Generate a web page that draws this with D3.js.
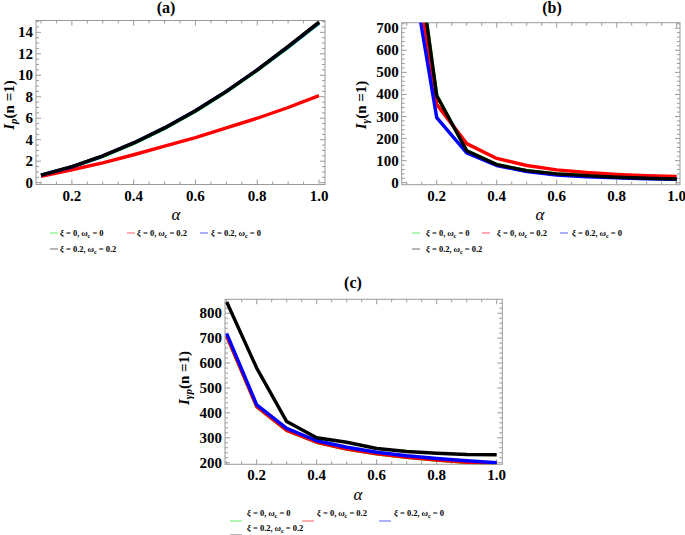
<!DOCTYPE html>
<html><head><meta charset="utf-8">
<script src="https://cdn.jsdelivr.net/npm/d3@7"></script>
<style>
body{margin:0;background:#fff;}
</style></head>
<body><svg id="c" width="685" height="535" font-family="'Liberation Serif','DejaVu Serif','Noto Serif',serif" font-weight="bold"></svg>
<script>
const alpha = [0.1,0.2,0.3,0.4,0.5,0.6,0.7,0.8,0.9,1.0];
const seriesNames = ["green","red","blue","black"];
const seriesColors = ["#00ee00","#ff0000","#0000ff","#000000"];
const legendColors = ["#7ef07e","#ff7a7a","#7a7aff","#888888"];
// legend labels: [xi, omega_c]
const legendXi = ["0","0","0.2","0.2"];
const legendOm = ["0","0.2","0","0.2"];

// Panel (a) I_p(n=1)
const aGreen = [0.68,1.45,2.45,3.65,5.05,6.65,8.45,10.45,12.6,14.85];
const aRed   = [0.6,1.2,1.85,2.6,3.4,4.2,5.1,6.0,7.0,8.1];
const aBlue  = [0.7,1.48,2.48,3.7,5.1,6.7,8.5,10.5,12.65,14.9];
const aBlack = [0.7,1.5,2.5,3.7,5.1,6.7,8.5,10.5,12.7,14.95];
const aTicks = [0,2,4,6,8,10,12,14];

// Panel (b) I_gamma(n=1)
const bGreen = [1380,395,145,82,55,40,32,25,20,17];
const bRed   = [1240,355,177,110,78,58,46,38,32,28];
const bBlue  = [1105,295,135,78,50,35,27,22,18,15];
const bBlack = [1385,395,145,82,55,40,32,25,20,17];
const bTicks = [0,100,200,300,400,500,600,700];

// Panel (c) I_gamma p(n=1)
const cGreen = [708,425,330,282,255,236,222,211,202,195];
const cRed   = [708,425,330,282,255,236,222,211,202,195];
const cBlue  = [718,432,338,288,262,242,228,217,208,200];
const cBlack = [845,580,365,300,282,257,245,238,233,232];
const cTicks = [200,300,400,500,600,700,800];

const xTicks = [0.2,0.4,0.6,0.8,1.0];

const svg = d3.select("#c");

function panel(cfg){
  const x = d3.scaleLinear().domain(cfg.xd).range([cfg.l,cfg.r]);
  const y = d3.scaleLinear().domain(cfg.yd).range([cfg.b,cfg.t]);
  const g = svg.append("g");
  const id = "clip"+cfg.name;
  svg.append("clipPath").attr("id",id).append("rect")
    .attr("x",cfg.l).attr("y",cfg.t).attr("width",cfg.r-cfg.l).attr("height",cfg.b-cfg.t);
  g.append("rect").attr("x",cfg.l).attr("y",cfg.t).attr("width",cfg.r-cfg.l).attr("height",cfg.b-cfg.t)
    .attr("fill","none").attr("stroke","#9a9a9a").attr("stroke-width",1);
  const xMinor = d3.range(0.1,1.0001,0.05).map(v=>+v.toFixed(2));
  xMinor.forEach(v=>{
    const major = xTicks.some(t=>Math.abs(t-v)<1e-6);
    const len = major?5:3;
    const px = x(v);
    g.append("line").attr("x1",px).attr("x2",px).attr("y1",cfg.b).attr("y2",cfg.b-len).attr("stroke","#9a9a9a");
    g.append("line").attr("x1",px).attr("x2",px).attr("y1",cfg.t).attr("y2",cfg.t+len).attr("stroke","#9a9a9a");
  });
  const yStep = cfg.yMinor;
  const yStart = Math.ceil(cfg.yd[0]/yStep)*yStep;
  for(let v=yStart; v<=cfg.yd[1]+1e-9; v+=yStep){
    const major = cfg.yt.some(t=>Math.abs(t-v)<1e-6);
    const len = major?5:3;
    const py = y(v);
    g.append("line").attr("x1",cfg.l).attr("x2",cfg.l+len).attr("y1",py).attr("y2",py).attr("stroke","#9a9a9a");
    g.append("line").attr("x1",cfg.r).attr("x2",cfg.r-len).attr("y1",py).attr("y2",py).attr("stroke","#9a9a9a");
  }
  xTicks.forEach(v=>{
    g.append("text").attr("x",x(v)).attr("y",cfg.b+16).attr("text-anchor","middle")
      .attr("font-size",15).text(d3.format(".1f")(v));
  });
  cfg.yt.forEach(v=>{
    g.append("text").attr("x",cfg.l-3).attr("y",y(v)+5).attr("text-anchor","end")
      .attr("font-size",15).text(v);
  });
  const line = d3.line().x((d,i)=>x(alpha[i])).y(d=>y(d));
  const lg = g.append("g").attr("clip-path",`url(#${id})`);
  cfg.series.forEach((s,k)=>{
    lg.append("path").attr("d",line(s)).attr("fill","none").attr("stroke",seriesColors[k])
      .attr("stroke-width",3.4).attr("stroke-linejoin","round");
  });
  g.append("text").attr("x",cfg.titleX).attr("y",cfg.titleY).attr("text-anchor","middle")
    .attr("font-size",16).text(cfg.title);
  g.append("text").attr("x",cfg.axX).attr("y",cfg.axY).attr("text-anchor","middle")
    .attr("font-size",17).attr("font-style","italic").attr("font-weight","normal").text("α");
  const yl = g.append("text").attr("transform",`translate(${cfg.ylX},${cfg.ylY}) rotate(-90)`)
    .attr("text-anchor","middle").attr("font-size",15);
  yl.append("tspan").attr("font-style","italic").text("I");
  yl.append("tspan").attr("font-style","italic").attr("font-size",11).attr("dy",3).text(cfg.sub);
  yl.append("tspan").attr("dy",-3).text("(n =1)");
  cfg.leg.forEach((p,k)=>{
    g.append("line").attr("x1",p[0]).attr("x2",p[0]+p[4]).attr("y1",p[3]).attr("y2",p[3])
      .attr("stroke",legendColors[k]).attr("stroke-width",1.2);
    const t = g.append("text").attr("x",p[1]).attr("y",p[2]).attr("font-size",8.5);
    t.append("tspan").attr("font-style","italic").text("ξ");
    t.append("tspan").text(` = ${legendXi[k]}, `);
    t.append("tspan").attr("font-style","italic").text("ω");
    t.append("tspan").attr("font-size",6).attr("dy",2).text("c");
    t.append("tspan").attr("dy",-2).text(` = ${legendOm[k]}`);
  });
}

panel({name:"a", l:36,r:325,t:20.5,b:184.5, xd:[0.0838,1.0194], yd:[-0.17,15.1], yt:aTicks, yMinor:0.5,
  series:[aGreen,aRed,aBlue,aBlack], title:"(a)", titleX:166, titleY:13, axX:176, axY:220,
  ylX:14, ylY:105, sub:"p",
  leg:[[50,60,236,233,8],[127,137,236,233,8],[200,211,236,233,8],[50,60,252,249,8]]});

panel({name:"b", l:401.7,r:680,t:22.7,b:184.7, xd:[0.0833,1.011], yd:[-9,725], yt:bTicks, yMinor:20,
  series:[bGreen,bRed,bBlue,bBlack], title:"(b)", titleX:552, titleY:13, axX:540, axY:220,
  ylX:366, ylY:105, sub:"γ",
  leg:[[412,426,236,233,8],[482,497,236,233,8],[560,572,236,233,8],[412,426,252,249,8]]});

panel({name:"c", l:225,r:502.3,t:299.3,b:464.3, xd:[0.0943,1.0187], yd:[193.6,856], yt:cTicks, yMinor:20,
  series:[cGreen,cRed,cBlue,cBlack], title:"(c)", titleX:353, titleY:288, axX:358, axY:500,
  ylX:189, ylY:378, sub:"γp",
  leg:[[230,247,516,521,12],[302,317,516,521,12],[379,394,516,521,12],[230,247,531,535,12]]});
</script></body></html>
